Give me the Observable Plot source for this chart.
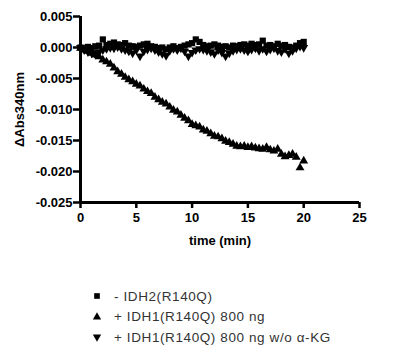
<!DOCTYPE html>
<html>
<head>
<meta charset="utf-8">
<script src="https://cdn.jsdelivr.net/npm/d3@7"></script>
<script src="https://cdn.jsdelivr.net/npm/@observablehq/plot@0.6"></script>
<style>
  body { margin: 0; background: #fff; font-family: "Liberation Sans", Arial, sans-serif; }
  #wrap { position: relative; width: 410px; height: 354px; }
  #legend { position: absolute; left: 91px; top: 286px; font-size: 13.5px; letter-spacing: 0.6px; color: #333; }
  .row { height: 20.5px; display: flex; align-items: center; }
  .row svg { width: 12px; height: 12px; margin-right: 11px; }
</style>
</head>
<body>
<div id="wrap"><div id="chart"></div><div id="legend"></div></div>
<script>
const times = [0, 0.33, 0.67, 1, 1.33, 1.67, 2, 2.33, 2.67, 3, 3.33, 3.67, 4, 4.33, 4.67, 5,
  5.33, 5.67, 6, 6.33, 6.67, 7, 7.33, 7.67, 8, 8.33, 8.67, 9, 9.33, 9.67, 10,
  10.33, 10.67, 11, 11.33, 11.67, 12, 12.33, 12.67, 13, 13.33, 13.67, 14, 14.33, 14.67, 15,
  15.33, 15.67, 16, 16.33, 16.67, 17, 17.33, 17.67, 18, 18.33, 18.67, 19, 19.33, 19.67, 20];

const idh2 = [0.0000, -0.0003, 0.0001, -0.0001, 0.0002, 0.0003, 0.0013, 0.0004, 0.0006, 0.0008,
  0.0005, 0.0004, 0.0007, 0.0003, 0.0002, 0.0001, 0.0003, 0.0005, 0.0006, 0.0002, 0.0001, -0.0001,
  0.0000, -0.0003, 0.0000, 0.0002, -0.0001, 0.0001, 0.0003, 0.0005, 0.0007, 0.0013, 0.0009, 0.0004,
  0.0002, 0.0003, 0.0005, 0.0003, 0.0001, 0.0002, 0.0000, 0.0003, 0.0002, 0.0004, 0.0005, 0.0003,
  0.0006, 0.0004, 0.0005, 0.0011, 0.0003, 0.0004, 0.0002, 0.0006, 0.0003, 0.0004, 0.0001, 0.0000,
  0.0003, 0.0007, 0.0009];

const idh1 = [-0.0001, -0.0003, -0.0006, -0.0009, -0.0012, -0.0015, -0.0020, -0.0023, -0.0027, -0.0033,
  -0.0039, -0.0043, -0.0048, -0.0052, -0.0055, -0.0059, -0.0062, -0.0067, -0.0071, -0.0074, -0.0080,
  -0.0084, -0.0088, -0.0091, -0.0096, -0.0101, -0.0104, -0.0109, -0.0114, -0.0118, -0.0124, -0.0126,
  -0.0128, -0.0133, -0.0135, -0.0139, -0.0143, -0.0144, -0.0147, -0.0151, -0.0153, -0.0156, -0.0159,
  -0.0160, -0.0159, -0.0161, -0.0160, -0.0162, -0.0163, -0.0164, -0.0161, -0.0165, -0.0167, -0.0164,
  -0.0172, -0.0176, -0.0174, -0.0172, -0.0177, -0.0194, -0.0183];

const idh1NoKG = [0.0000, -0.0004, -0.0007, -0.0009, -0.0011, -0.0007, -0.0004, -0.0002, 0.0000, -0.0001,
  0.0001, -0.0002, -0.0004, -0.0006, -0.0009, -0.0004, -0.0014, -0.0006, -0.0003, -0.0001, -0.0004,
  -0.0007, -0.0010, -0.0013, -0.0005, -0.0002, -0.0004, -0.0001, -0.0006, -0.0014, -0.0008, -0.0004,
  -0.0002, -0.0003, -0.0005, -0.0007, -0.0010, -0.0004, -0.0008, -0.0014, -0.0009, -0.0005, -0.0003,
  -0.0002, -0.0004, -0.0006, -0.0003, -0.0001, -0.0005, -0.0002, -0.0006, -0.0003, -0.0001, -0.0005,
  -0.0007, -0.0002, -0.0009, -0.0005, -0.0001, 0.0002, 0.0000];

const seriesNames = ["- IDH2(R140Q)", "+ IDH1(R140Q) 800 ng", "+ IDH1(R140Q) 800 ng w/o α-KG"];
const xTicks = [0, 5, 10, 15, 20, 25];
const yTicks = [0.005, 0, -0.005, -0.010, -0.015, -0.020, -0.025];

const triangleDown = {
  draw(context, size) {
    const y = -Math.sqrt(size / (Math.sqrt(3) * 3));
    context.moveTo(0, -y * 2);
    context.lineTo(-Math.sqrt(3) * y, y);
    context.lineTo(Math.sqrt(3) * y, y);
    context.closePath();
  }
};

const mk = arr => times.map((t, i) => ({t, v: arr[i]}));
const dSq = mk(idh2), dUp = mk(idh1), dDn = mk(idh1NoKG);

const fmt = d => d.toFixed(3);

const chart = Plot.plot({
  width: 410,
  height: 250,
  marginLeft: 80,
  marginRight: 51,
  marginTop: 16,
  marginBottom: 48,
  style: {fontFamily: "'Liberation Sans', Arial, sans-serif", fontSize: "13px", fontWeight: "bold", color: "#000", background: "#fff"},
  x: {domain: [0, 25]},
  y: {domain: [-0.025, 0.005]},
  marks: [
    Plot.axisY({ticks: yTicks, tickFormat: fmt, tickSize: 7, tickPadding: 1, strokeWidth: 2.5,
      label: "ΔAbs340nm", labelAnchor: "center", labelArrow: "none", labelOffset: 66}),
    Plot.axisX({ticks: xTicks, tickSize: 6, tickPadding: 4, strokeWidth: 2.5,
      label: "time (min)", labelAnchor: "center", labelArrow: "none", labelOffset: 42}),
    Plot.ruleX([0], {y1: -0.025, y2: 0.005, strokeWidth: 3, stroke: "#000"}),
    Plot.ruleY([-0.025], {x1: 0, x2: 25, strokeWidth: 3, stroke: "#000"}),
    Plot.dot(dSq, {x: "t", y: "v", symbol: "square", r: 3.5, fill: "#000", stroke: "none"}),
    Plot.dot(dDn, {x: "t", y: "v", symbol: triangleDown, r: 3.3, fill: "#000", stroke: "none"}),
    Plot.dot(dUp, {x: "t", y: "v", symbol: "triangle", r: 3.3, fill: "#000", stroke: "none"})
  ]
});
document.getElementById("chart").appendChild(chart);

const legendSymbols = [d3.symbolSquare, d3.symbolTriangle, triangleDown];
const legendSizes = [32, 30, 30];
const legend = d3.select("#legend");
seriesNames.forEach((name, i) => {
  const row = legend.append("div").attr("class", "row");
  row.append("svg").attr("viewBox", "-6 -6 12 12")
    .append("path").attr("d", d3.symbol(legendSymbols[i], legendSizes[i])()).attr("fill", "#000");
  row.append("span").text(name);
});
</script>
</body>
</html>
